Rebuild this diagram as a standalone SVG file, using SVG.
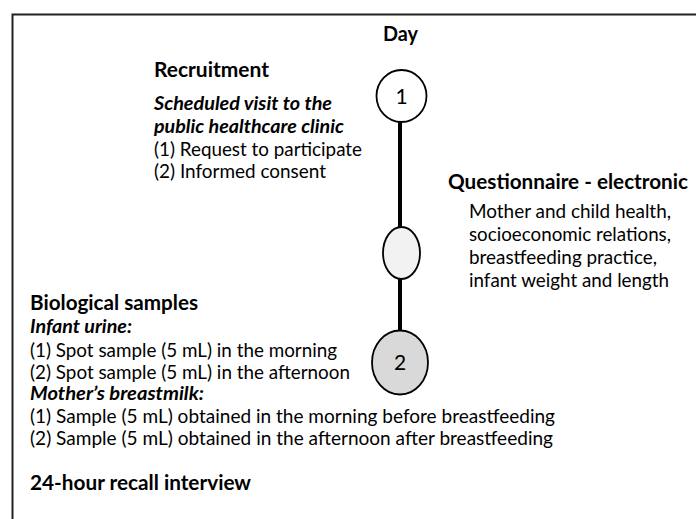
<svg xmlns="http://www.w3.org/2000/svg" width="696" height="519" viewBox="0 0 696 519">
<style>
text{font-family:Lato,"Open Sans","Liberation Sans",sans-serif;fill:#000}
.h{font-size:21px;font-weight:bold}
.b{font-size:19px}
.bi{font-size:19px;font-weight:bold;font-style:italic}
.num{font-size:21px;text-anchor:middle}
.node{stroke:#000;stroke-width:1.8}
</style>
<rect x="12.5" y="14.5" width="720" height="540" fill="#fff" stroke="#222" stroke-width="2"/>
<g id="connectors">
<line x1="400" y1="121" x2="400" y2="331" stroke="#000" stroke-width="4"/>
</g>
<g id="day-header"><text class="h" x="400.5" y="41" text-anchor="middle" textLength="35" lengthAdjust="spacingAndGlyphs">Day</text></g>
<g id="node-day1">
<ellipse class="node" cx="401.5" cy="96" rx="25" ry="26" fill="#fff"/>
<text class="num" x="401.5" y="103.5">1</text>
</g>
<g id="node-questionnaire">
<ellipse class="node" cx="401.5" cy="253" rx="18.5" ry="26" fill="#f2f2f2"/>
</g>
<g id="node-day2">
<ellipse class="node" cx="400" cy="362.5" rx="28" ry="32" fill="#d9d9d9"/>
<text class="num" x="400" y="370">2</text>
</g>
<g id="recruitment">
<text class="h" x="154" y="76.5" textLength="115" lengthAdjust="spacingAndGlyphs">Recruitment</text>
<text class="bi" x="154" y="110" textLength="178" lengthAdjust="spacingAndGlyphs">Scheduled visit to the</text>
<text class="bi" x="154" y="132.5" textLength="190" lengthAdjust="spacingAndGlyphs">public healthcare clinic</text>
<text class="b" x="154" y="156" textLength="208" lengthAdjust="spacingAndGlyphs">(1) Request to participate</text>
<text class="b" x="154" y="178" textLength="172" lengthAdjust="spacingAndGlyphs">(2) Informed consent</text>
</g>
<g id="questionnaire">
<text class="h" x="448" y="189" textLength="240" lengthAdjust="spacingAndGlyphs">Questionnaire - electronic</text>
<text class="b" x="469" y="217.5" textLength="202" lengthAdjust="spacingAndGlyphs">Mother and child health,</text>
<text class="b" x="469" y="240.5" textLength="202" lengthAdjust="spacingAndGlyphs">socioeconomic relations,</text>
<text class="b" x="469" y="263.5" textLength="188" lengthAdjust="spacingAndGlyphs">breastfeeding practice,</text>
<text class="b" x="469" y="286.5" textLength="200" lengthAdjust="spacingAndGlyphs">infant weight and length</text>
</g>
<g id="biological-samples">
<text class="h" x="30" y="310" textLength="168" lengthAdjust="spacingAndGlyphs">Biological samples</text>
<text class="bi" x="30" y="333" textLength="102" lengthAdjust="spacingAndGlyphs">Infant urine:</text>
<text class="b" x="30" y="357" textLength="307" lengthAdjust="spacingAndGlyphs">(1) Spot sample (5 mL) in the morning</text>
<text class="b" x="30" y="379" textLength="320" lengthAdjust="spacingAndGlyphs">(2) Spot sample (5 mL) in the afternoon</text>
<text class="bi" x="30" y="400" textLength="174" lengthAdjust="spacingAndGlyphs">Mother’s breastmilk:</text>
<text class="b" x="30" y="423" textLength="525" lengthAdjust="spacingAndGlyphs">(1) Sample (5 mL) obtained in the morning before breastfeeding</text>
<text class="b" x="30" y="445" textLength="523" lengthAdjust="spacingAndGlyphs">(2) Sample (5 mL) obtained in the afternoon after breastfeeding</text>
</g>
<g id="recall">
<text class="h" x="30" y="490" textLength="221" lengthAdjust="spacingAndGlyphs">24-hour recall interview</text>
</g>
</svg>
